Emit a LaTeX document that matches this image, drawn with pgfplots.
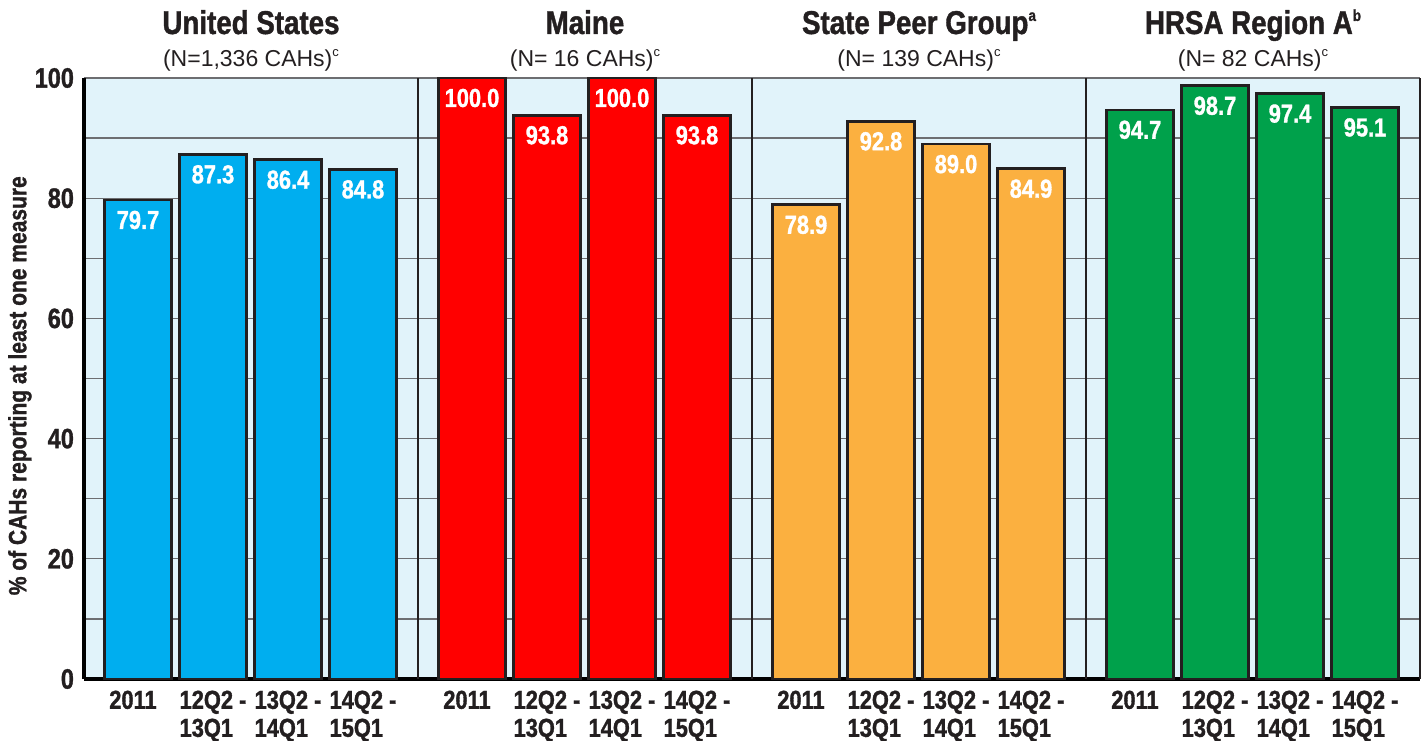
\documentclass[border=0pt]{standalone}
\usepackage{fontspec}
\setmainfont{Liberation Sans}[FakeStretch=0.84, BoldFeatures={FakeBold=1.2}]
\newfontfamily\subfont{Liberation Sans}
\usepackage{pgfplots}
\pgfplotsset{compat=1.18}
\definecolor{bg}{HTML}{E1F3FA}
\definecolor{cblue}{HTML}{00AEEF}
\definecolor{cred}{HTML}{FF0000}
\definecolor{corange}{HTML}{FBB040}
\definecolor{cgreen}{HTML}{00A14B}
\definecolor{edge}{HTML}{231F20}
\definecolor{gridc}{HTML}{6D6E71}
\begin{document}
\begin{tikzpicture}
\begin{axis}[name=ax, scale only axis, width=668pt, height=300.5pt,
 xmin=0, xmax=17.8133, ymin=0, ymax=100, clip=false,
 axis background/.style={fill=bg},
 axis x line*=bottom, axis y line*=left,
 axis line style={line width=1.8pt, black, -},
 ytick={0,20,...,100}, minor ytick={10,30,...,90},
 ymajorgrids, yminorgrids,
 major grid style={line width=0.6pt, gridc},
 minor grid style={line width=0.6pt, gridc},
 major tick length=0pt, minor tick length=0pt,
 xtick={0.72,1.72,2.72,3.72,5.1733,6.1733,7.1733,8.1733,9.6267,10.6267,11.6267,12.6267,14.08,15.08,16.08,17.08},
 xticklabels={{2011\hspace*{5pt}},{12Q2 -\\13Q1},{13Q2 -\\14Q1},{14Q2 -\\15Q1},
              {2011\hspace*{5pt}},{12Q2 -\\13Q1},{13Q2 -\\14Q1},{14Q2 -\\15Q1},
              {2011\hspace*{5pt}},{12Q2 -\\13Q1},{13Q2 -\\14Q1},{14Q2 -\\15Q1},
              {2011\hspace*{5pt}},{12Q2 -\\13Q1},{13Q2 -\\14Q1},{14Q2 -\\15Q1}},
 xticklabel style={font=\fontsize{13}{14}\selectfont\bfseries, align=left, anchor=north, yshift=-2.3pt, text=edge},
 yticklabel style={font=\fontsize{14}{15}\selectfont\bfseries, xshift=-1.5pt, text=edge},
 /pgf/number format/assume math mode=true,
 ylabel={\% of CAHs reporting at least one measure},
 every axis y label/.style={at={(axis description cs:-0.048,0.488)}, rotate=90, anchor=center, font=\fontsize{12.5}{14}\selectfont\bfseries, text=edge},
 bar width=0.89,
 nodes near coords={\pgfmathprintnumber[fixed,fixed zerofill,precision=1]{\pgfplotspointmeta}},
 every node near coord/.append style={anchor=center, yshift=-10pt, text=white, font=\fontsize{13}{15}\selectfont\bfseries},
]
\addplot[ybar, bar shift=0pt, fill=cblue, draw=edge, line width=1.35pt] coordinates {(0.72,79.7) (1.72,87.3) (2.72,86.4) (3.72,84.8)};
\addplot[ybar, bar shift=0pt, fill=cred, draw=edge, line width=1.35pt] coordinates {(5.1733,100.0) (6.1733,93.8) (7.1733,100.0) (8.1733,93.8)};
\addplot[ybar, bar shift=0pt, fill=corange, draw=edge, line width=1.35pt] coordinates {(9.6267,78.9) (10.6267,92.8) (11.6267,89.0) (12.6267,84.9)};
\addplot[ybar, bar shift=0pt, fill=cgreen, draw=edge, line width=1.35pt] coordinates {(14.08,94.7) (15.08,98.7) (16.08,97.4) (17.08,95.1)};
\draw[line width=1.2pt, edge] (axis cs:4.4533,0) -- (axis cs:4.4533,100);
\draw[line width=1.2pt, edge] (axis cs:8.9067,0) -- (axis cs:8.9067,100);
\draw[line width=1.2pt, edge] (axis cs:13.36,0) -- (axis cs:13.36,100);
\draw[line width=1.2pt, edge] (axis cs:17.8133,0) -- (axis cs:17.8133,100);
\node[anchor=base, yshift=22pt, font=\fontsize{16.5}{18}\selectfont\bfseries, text=edge] at (axis cs:2.2267,100) {United States};
\node[anchor=base, yshift=22pt, font=\fontsize{16.5}{18}\selectfont\bfseries, text=edge] at (axis cs:6.68,100) {Maine};
\node[anchor=base, yshift=22pt, font=\fontsize{16.5}{18}\selectfont\bfseries, text=edge] at (axis cs:11.1333,100) {State Peer Group\raisebox{0.75ex}{\fontsize{8}{8}\selectfont a}};
\node[anchor=base, yshift=22pt, font=\fontsize{16.5}{18}\selectfont\bfseries, text=edge] at (axis cs:15.5867,100) {HRSA Region A\raisebox{0.75ex}{\fontsize{8}{8}\selectfont b}};
\node[anchor=base, yshift=5.75pt, font=\subfont\fontsize{11.5}{13}\selectfont, text=edge] at (axis cs:2.2267,100) {(N=1,336 CAHs)\raisebox{0.45em}{\fontsize{6.5}{7}\selectfont c}};
\node[anchor=base, yshift=5.75pt, font=\subfont\fontsize{11.5}{13}\selectfont, text=edge] at (axis cs:6.68,100) {(N= 16 CAHs)\raisebox{0.45em}{\fontsize{6.5}{7}\selectfont c}};
\node[anchor=base, yshift=5.75pt, font=\subfont\fontsize{11.5}{13}\selectfont, text=edge] at (axis cs:11.1333,100) {(N= 139 CAHs)\raisebox{0.45em}{\fontsize{6.5}{7}\selectfont c}};
\node[anchor=base, yshift=5.75pt, font=\subfont\fontsize{11.5}{13}\selectfont, text=edge] at (axis cs:15.5867,100) {(N= 82 CAHs)\raisebox{0.45em}{\fontsize{6.5}{7}\selectfont c}};
\end{axis}
\pgfresetboundingbox
\path[use as bounding box] ([xshift=-42pt,yshift=-30.5pt]ax.south west) rectangle ([xshift=3pt,yshift=39pt]ax.north east);
\end{tikzpicture}
\end{document}
